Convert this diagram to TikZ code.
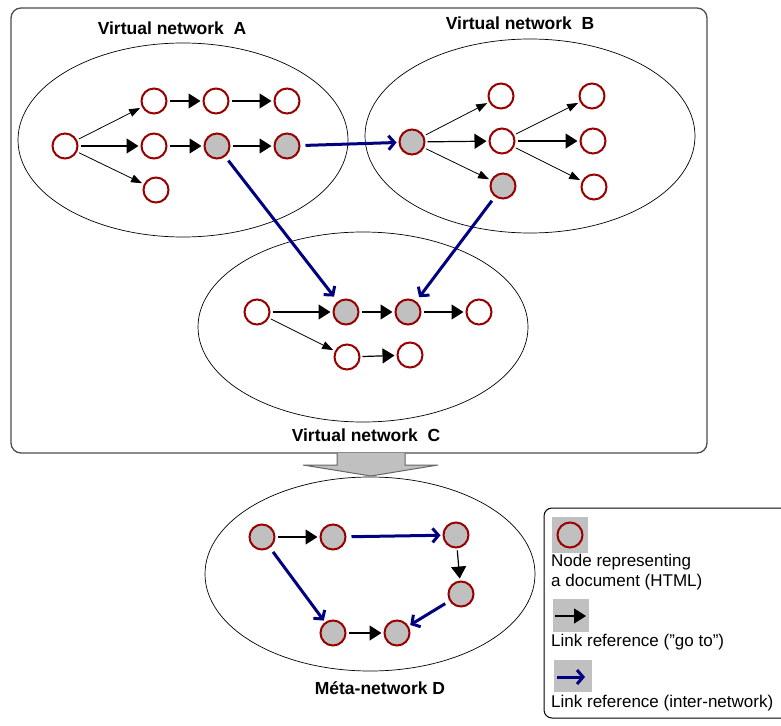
\documentclass[tikz,border=0pt]{standalone}
\usepackage{fontspec}
\setmainfont{Liberation Sans}
\usetikzlibrary{arrows.meta}
\definecolor{docred}{HTML}{990000}
\definecolor{navy}{HTML}{000080}
\definecolor{docgray}{HTML}{C0C0C0}
\tikzset{
	doc/.style={circle, draw=docred, fill=white, line width=2pt, minimum size=25pt, inner sep=0pt, outer sep=3pt},
	visited/.style={doc, fill=docgray},
	goto/.style={line width=1.2pt, -{Triangle[length=12pt,width=15pt]}},
	gotosmall/.style={line width=0.8pt, -{Triangle[length=11pt,width=8pt]}},
	interlink/.style={draw=navy, line width=3pt, -{Straight Barb[length=6pt,width=14pt]}, shorten <=3pt},
	nettitle/.style={font=\fontsize{17.5}{20}\selectfont\bfseries},
	legendtext/.style={font=\fontsize{17}{20}\selectfont, anchor=north west, align=left, inner sep=0pt}
}

\begin{document}
\begin{tikzpicture}[x=1pt, y=-1pt]
		%%%%% START %%%%%
		\useasboundingbox (0,0) rectangle (781,725);
		
		% frame round the three virtual networks
		\draw[line width=1.3pt, black!70, rounded corners=10pt] (11,8) rectangle (707,453);
		
		\draw[line width=0.7pt] (183,140) ellipse [x radius=165, y radius=97];
		\draw[line width=0.7pt] (530,136) ellipse [x radius=165, y radius=97];
		\draw[line width=0.7pt] (363,327) ellipse [x radius=165, y radius=95];
		\draw[line width=0.7pt] (370,574) ellipse [x radius=165, y radius=97];
		
		\node[nettitle] (tA) at (172,28) {Virtual network\ \ A};
		\node[nettitle] (tB) at (520,23) {Virtual network\ \ B};
		\node[nettitle] (tC) at (366,435) {Virtual network\ \ C};
		\node[nettitle] (tD) at (380,688) {Méta-network D};
		
		% network A
		\node[doc] (a0) at (65,146) {};
		\node[doc] (a1) at (154,101) {};
		\node[doc] (a2) at (216,101) {};
		\node[doc] (a3) at (287,101) {};
		\node[doc] (a4) at (154,146) {};
		\node[visited] (a5) at (217,146) {};
		\node[visited] (a6) at (287,146) {};
		\node[doc] (a7) at (156,190) {};
		
		\draw[gotosmall] (a0) -- (a1);
		\draw[goto] (a0) -- (a4);
		\draw[gotosmall] (a0) -- (a7);
		\draw[goto] (a1) -- (a2);
		\draw[goto] (a2) -- (a3);
		\draw[goto] (a4) -- (a5);
		\draw[goto] (a5) -- (a6);
		
		% network B
		\node[visited] (b0) at (412,142) {};
		\node[doc] (b1) at (501,96) {};
		\node[doc] (b2) at (502,141) {};
		\node[visited] (b3) at (503,186) {};
		\node[doc] (b4) at (592,96) {};
		\node[doc] (b5) at (593,141) {};
		\node[doc] (b6) at (594,187) {};
		
		\draw[gotosmall] (b0) -- (b1);
		\draw[goto] (b0) -- (b2);
		\draw[gotosmall] (b0) -- (b3);
		\draw[gotosmall] (b2) -- (b4);
		\draw[goto] (b2) -- (b5);
		\draw[gotosmall] (b2) -- (b6);
		
		% network C
		\node[doc] (c0) at (257,312) {};
		\node[visited] (c1) at (346,312) {};
		\node[visited] (c2) at (408,312) {};
		\node[doc] (c3) at (479,312) {};
		\node[doc] (c4) at (347,357) {};
		\node[doc] (c5) at (410,355) {};
		
		\draw[goto] (c0) -- (c1);
		\draw[gotosmall] (c0) -- (c4);
		\draw[goto] (c1) -- (c2);
		\draw[goto] (c2) -- (c3);
		\draw[goto] (c4) -- (c5);
		
		% links between networks
		\draw[interlink] (a6) -- (b0);
		\draw[interlink, shorten >=4pt] (a5) -- (c1);
		\draw[interlink, shorten >=3pt] (b3) -- (c2);
		
		% wide gray arrow down to the meta-network
		\draw[black!60, fill=docgray, line width=1pt] (337,453) -- (337,465) -- (303,465) -- (371,476) -- (438,465) -- (405,465) -- (405,453);
		
		% meta-network D
		\node[visited] (d0) at (262,537) {};
		\node[visited] (d1) at (333,537) {};
		\node[visited] (d2) at (456,535) {};
		\node[visited] (d3) at (461,594) {};
		\node[visited] (d4) at (333,633) {};
		\node[visited] (d5) at (397,633) {};
		
		\draw[goto] (d0) -- (d1);
		\draw[interlink] (d1) -- (d2);
		\draw[goto] (d2) -- (d3);
		\draw[interlink] (d3) -- (d5);
		\draw[interlink] (d0) -- (d4);
		\draw[goto] (d4) -- (d5);
		
		% legend
		\draw[line width=1pt, rounded corners=8pt] (544,508) rectangle (800,718);
		\fill[docgray] (552,517) rectangle (588,553);
		\node[doc, fill=none] (key1) at (570,535) {};
		\node[legendtext] (key1t) at (551,554) {Node representing\\a document (HTML)};
		\fill[docgray] (553,599) rectangle (589,632);
		\coordinate (key2a) at (555,616);
		\coordinate (key2b) at (586,616);
		\draw[goto] (key2a) -- (key2b);
		\node[legendtext] (key2t) at (551,634) {Link reference ({\char34}go to{\char34})};
		\fill[docgray] (554,660) rectangle (592,692);
		\coordinate (key3a) at (557,677);
		\coordinate (key3b) at (585,677);
		\draw[interlink, shorten <=0pt] (key3a) -- (key3b);
		\node[legendtext] (key3t) at (551,695) {Link reference (inter-network)};
		
		%%%%% END %%%%%
\end{tikzpicture}
\end{document}
